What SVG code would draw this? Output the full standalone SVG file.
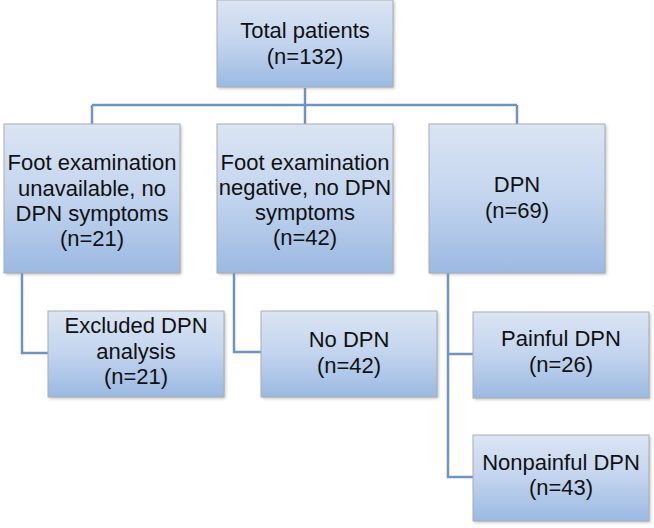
<svg xmlns="http://www.w3.org/2000/svg" width="654" height="528" viewBox="0 0 654 528">
<defs>
<linearGradient id="g" x1="0" y1="0" x2="0" y2="1">
<stop offset="0" stop-color="#dbe5f3"/>
<stop offset="0.5" stop-color="#c2d4ee"/>
<stop offset="1" stop-color="#9bb9e2"/>
</linearGradient>
<filter id="sh" x="-10%" y="-10%" width="130%" height="130%">
<feGaussianBlur stdDeviation="1.5"/>
</filter>
</defs>
<style>
.box{fill:url(#g);stroke:#a9adb3;stroke-width:1}
.shadow{fill:#8a8a8a;opacity:0.55;filter:url(#sh)}
.t{font-family:"Liberation Sans",Arial,sans-serif;font-size:22px;fill:#111;text-anchor:middle}
.c{fill:none;stroke:#7093c3;stroke-width:2.5}
</style>
<rect width="654" height="528" fill="#fff"/>
<g id="connectors">
<path class="c" d="M305 88V105M92 105H517M92 105V124M305 105V124M517 105V124"/>
<path class="c" d="M22 273V353H48"/>
<path class="c" d="M234 273V352H261"/>
<path class="c" d="M448 273V477H473M448 354H473"/>
</g>
<g id="n_total">
<rect class="shadow" x="218.5" y="1.5" width="176" height="87"/>
<rect class="box" x="217" y="0" width="176" height="87"/>
<text class="t" x="305" y="38">Total patients</text>
<text class="t" x="305" y="64">(n=132)</text>
</g>
<g id="n_unavail">
<rect class="shadow" x="5.5" y="125.5" width="176" height="149"/>
<rect class="box" x="4" y="124" width="176" height="149"/>
<text class="t" x="92" y="170">Foot examination</text>
<text class="t" x="92" y="196">unavailable, no</text>
<text class="t" x="92" y="221">DPN symptoms</text>
<text class="t" x="92" y="246">(n=21)</text>
</g>
<g id="n_negative">
<rect class="shadow" x="218.5" y="125.5" width="176" height="149"/>
<rect class="box" x="217" y="124" width="176" height="149"/>
<text class="t" x="305" y="170">Foot examination</text>
<text class="t" x="305" y="195">negative, no DPN</text>
<text class="t" x="305" y="220">symptoms</text>
<text class="t" x="305" y="245">(n=42)</text>
</g>
<g id="n_dpn">
<rect class="shadow" x="430.5" y="125.5" width="176" height="149"/>
<rect class="box" x="429" y="124" width="176" height="149"/>
<text class="t" x="517" y="192">DPN</text>
<text class="t" x="517" y="218">(n=69)</text>
</g>
<g id="n_excluded">
<rect class="shadow" x="49.5" y="312.5" width="176" height="86"/>
<rect class="box" x="48" y="311" width="176" height="86"/>
<text class="t" x="136" y="333">Excluded DPN</text>
<text class="t" x="136" y="359">analysis</text>
<text class="t" x="136" y="384">(n=21)</text>
</g>
<g id="n_nodpn">
<rect class="shadow" x="262.5" y="312.5" width="176" height="86"/>
<rect class="box" x="261" y="311" width="176" height="86"/>
<text class="t" x="349" y="347">No DPN</text>
<text class="t" x="349" y="373">(n=42)</text>
</g>
<g id="n_painful">
<rect class="shadow" x="474.5" y="313.5" width="176" height="86"/>
<rect class="box" x="473" y="312" width="176" height="86"/>
<text class="t" x="561" y="346">Painful DPN</text>
<text class="t" x="561" y="372">(n=26)</text>
</g>
<g id="n_nonpainful">
<rect class="shadow" x="474.5" y="436.5" width="176" height="86"/>
<rect class="box" x="473" y="435" width="176" height="86"/>
<text class="t" x="561" y="470">Nonpainful DPN</text>
<text class="t" x="561" y="495">(n=43)</text>
</g>
</svg>
